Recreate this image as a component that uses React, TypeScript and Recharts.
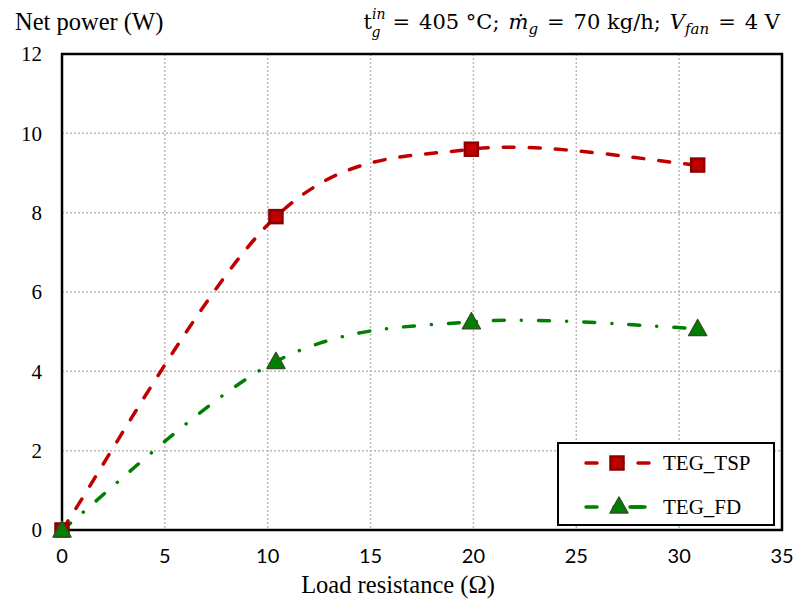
import React from 'react';
import {
  LineChart, Line, XAxis, YAxis, CartesianGrid, Legend, ReferenceArea, Customized,
} from 'recharts';

// load resistance (ohm) and net power (W)
const tspResistance = [0, 10.4, 19.9, 30.9];
const tspPower = [0, 7.9, 9.6, 9.2];
const fdResistance = [0, 10.4, 19.9, 30.9];
const fdPower = [0, 4.25, 5.25, 5.08];

const xTicks = [0, 5, 10, 15, 20, 25, 30, 35];
const yTicks = [0, 2, 4, 6, 8, 10, 12];

const tspData = tspResistance.map((x, i) => ({ x, y: tspPower[i] }));
const fdData = fdResistance.map((x, i) => ({ x, y: fdPower[i] }));

const RED = '#C00000';
const GREEN = '#008000';
const SERIF = '"Liberation Serif", "Times New Roman", serif';
const MATH = '"DejaVu Serif", serif';

// Excel-style smoothed line (Catmull-Rom through the points)
const excelSmooth = (context: any) => {
  let pts: number[][] = [];
  return {
    areaStart() {},
    areaEnd() {},
    lineStart() { pts = []; },
    point(x: number, y: number) { pts.push([+x, +y]); },
    lineEnd() {
      const n = pts.length;
      if (!n) return;
      context.moveTo(pts[0][0], pts[0][1]);
      for (let i = 0; i < n - 1; i++) {
        const p0 = pts[Math.max(i - 1, 0)];
        const p1 = pts[i];
        const p2 = pts[i + 1];
        const p3 = pts[Math.min(i + 2, n - 1)];
        context.bezierCurveTo(
          p1[0] + (p2[0] - p0[0]) / 6, p1[1] + (p2[1] - p0[1]) / 6,
          p2[0] - (p3[0] - p1[0]) / 6, p2[1] - (p3[1] - p1[1]) / 6,
          p2[0], p2[1],
        );
      }
    },
  };
};

const Square = ({ cx, cy }: any) => (
  <rect x={cx - 6.5} y={cy - 6.5} width={13} height={13} fill={RED} stroke="#8B0000" strokeWidth={2.5} />
);

const Triangle = ({ cx, cy }: any) => (
  <polygon
    points={`${cx},${cy - 9} ${cx - 9},${cy + 7} ${cx + 9},${cy + 7}`}
    fill={GREEN}
    stroke="#2F5020"
    strokeWidth={1.5}
    strokeLinejoin="round"
  />
);

const LegendBox = () => (
  <div style={{ width: 218, height: 84, border: '2px solid #000', background: '#fff', boxSizing: 'border-box', fontFamily: SERIF, fontSize: 21 }}>
    <svg width={214} height={80}>
      <line x1={27} y1={19} x2={95} y2={19} stroke={RED} strokeWidth={3.5} strokeDasharray="11 15" strokeLinecap="round" />
      <Square cx={58} cy={19} />
      <text x={104} y={26} fill="#000">TEG_TSP</text>
      <line x1={27} y1={63} x2={86} y2={63} stroke={GREEN} strokeWidth={3.5} strokeDasharray="11 17 0.1 17" strokeLinecap="round" />
      <line x1={71} y1={63} x2={86} y2={63} stroke={GREEN} strokeWidth={3.5} strokeLinecap="round" />
      <Triangle cx={60} cy={62} />
      <text x={104} y={70} fill="#000">TEG_FD</text>
    </svg>
  </div>
);

const Titles = () => (
  <g fill="#000">
    <text x={15} y={30} fontSize={24.5} fontFamily={SERIF}>Net power (W)</text>
    <text x={398} y={593} fontSize={24.5} fontFamily={SERIF} textAnchor="middle">Load resistance (Ω)</text>
    <text x={780} y={29} fontSize={21} fontFamily={MATH} textAnchor="end">
      <tspan>t</tspan>
      <tspan fontStyle="italic" fontSize={14} dy={-10}>in</tspan>
      <tspan fontStyle="italic" fontSize={14} dx={-14} dy={18}>g</tspan>
      <tspan dx={12} dy={-8}>=</tspan>
      <tspan dx={9}>405 °C;</tspan>
      <tspan dx={9} fontStyle="italic">ṁ</tspan>
      <tspan fontStyle="italic" fontSize={15} dy={5}>g</tspan>
      <tspan dx={9} dy={-5}>=</tspan>
      <tspan dx={9}>70 kg/h;</tspan>
      <tspan dx={9} fontStyle="italic">V</tspan>
      <tspan fontStyle="italic" fontSize={15} dy={5}>fan</tspan>
      <tspan dx={9} dy={-5}>=</tspan>
      <tspan dx={9}>4 V</tspan>
    </text>
  </g>
);

export default function App() {
  return (
    <div style={{ position: 'absolute', left: 0, top: 0, background: '#fff' }}>
      <LineChart width={795} height={603} margin={{ top: 54, right: 13, bottom: 43, left: 22 }}>
        <CartesianGrid stroke="#b8b8b8" strokeDasharray="2 2" strokeWidth={1.5} />
        <XAxis
          type="number"
          dataKey="x"
          domain={[0, 35]}
          ticks={xTicks}
          tickLine={false}
          axisLine={false}
          height={30}
          tickMargin={13}
          tick={{ fill: '#000', fontSize: 20, fontFamily: 'Lato, "Open Sans", sans-serif' }}
        />
        <YAxis
          type="number"
          dataKey="y"
          domain={[0, 12]}
          ticks={yTicks}
          tickLine={false}
          axisLine={false}
          width={40}
          tickMargin={14}
          tick={{ fill: '#000', fontSize: 21, fontFamily: SERIF }}
        />
        <ReferenceArea x1={0} x2={35} y1={0} y2={12} fill="none" stroke="#000" strokeWidth={2.5} ifOverflow="visible" />
        <Line
          data={tspData}
          dataKey="y"
          name="TEG_TSP"
          type={excelSmooth as any}
          stroke={RED}
          strokeWidth={3.5}
          strokeDasharray="11 15"
          strokeLinecap="round"
          dot={<Square />}
          activeDot={false}
          isAnimationActive={false}
        />
        <Line
          data={fdData}
          dataKey="y"
          name="TEG_FD"
          type={excelSmooth as any}
          stroke={GREEN}
          strokeWidth={3.5}
          strokeDasharray="11 17 0.1 17"
          strokeLinecap="round"
          dot={<Triangle />}
          activeDot={false}
          isAnimationActive={false}
        />
        <Legend
          layout="vertical"
          align="center"
          verticalAlign="middle"
          content={<LegendBox />}
          wrapperStyle={{ left: 557, top: 442, width: 218, height: 84 }}
        />
        <Customized component={<Titles />} />
      </LineChart>
    </div>
  );
}
